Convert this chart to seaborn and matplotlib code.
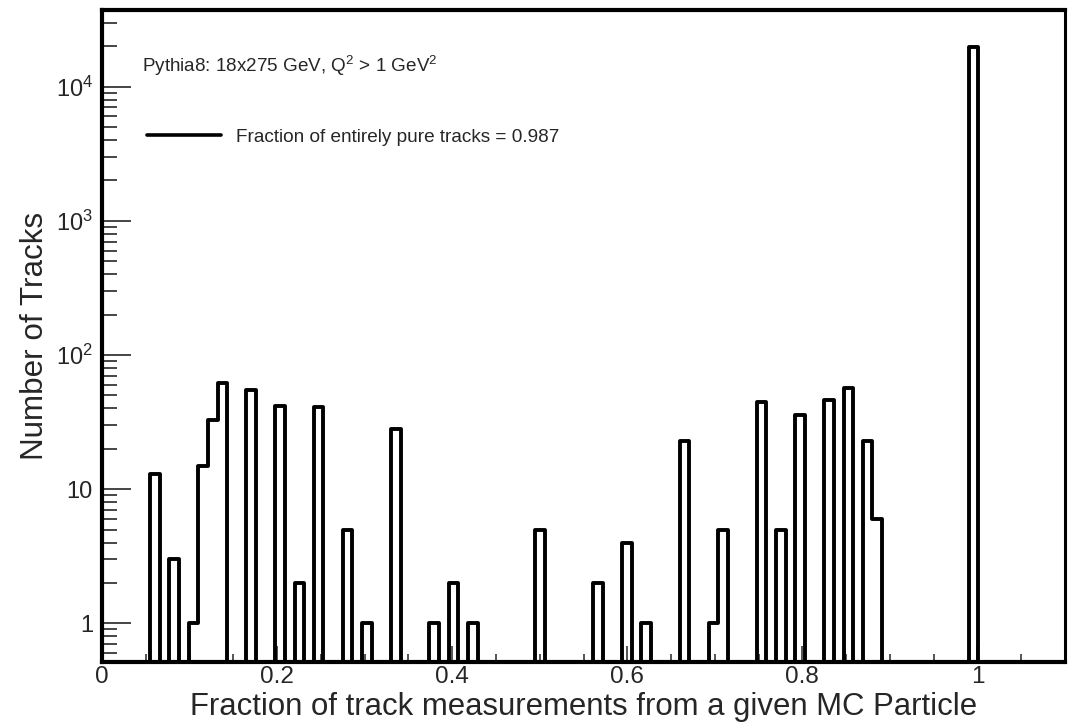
import numpy as np
import pandas as pd
import matplotlib
matplotlib.use("Agg")
import matplotlib.pyplot as plt
import seaborn as sns
from matplotlib.ticker import FixedLocator, FixedFormatter, MultipleLocator, NullFormatter
from matplotlib.lines import Line2D

# ---- data ----
bin_low = [0.055, 0.077, 0.099, 0.110, 0.121, 0.132, 0.165, 0.198, 0.220, 0.242,
           0.275, 0.297, 0.330, 0.374, 0.396, 0.418, 0.495, 0.561, 0.594, 0.616,
           0.660, 0.693, 0.704, 0.748, 0.770, 0.792, 0.825, 0.847, 0.869, 0.880,
           0.990]
counts = [13, 3, 1, 15, 33, 62, 55, 42, 2, 41,
          5, 1, 28, 1, 2, 1, 5, 2, 4, 1,
          23, 1, 5, 45, 5, 36, 46, 57, 23, 6,
          19900]
bin_width = 0.011
x_range = (0.0, 1.1)
x_ticks = [0, 0.2, 0.4, 0.6, 0.8, 1.0]
x_tick_labels = ["0", "0.2", "0.4", "0.6", "0.8", "1"]
y_ticks = [1, 10, 100, 1000, 10000]
y_tick_labels = ["1", "10", r"$\mathdefault{10^{2}}$", r"$\mathdefault{10^{3}}$", r"$\mathdefault{10^{4}}$"]
x_title = "Fraction of track measurements from a given MC Particle"
y_title = "Number of Tracks"
note_text = r"Pythia8: 18x275 GeV, Q$^{2}$ > 1 GeV$^{2}$"
legend_label = "Fraction of entirely pure tracks = 0.987"

df = pd.DataFrame({"fraction": [b + bin_width / 2 for b in bin_low], "count": counts})
n_bins = int(round((x_range[1] - x_range[0]) / bin_width))
edges = [float(e) for e in np.linspace(x_range[0], x_range[1], n_bins + 1)]

sns.set_style("white")
plt.rcParams["font.family"] = ["Liberation Sans", "DejaVu Sans"]
plt.rcParams["mathtext.fontset"] = "custom"
plt.rcParams["mathtext.rm"] = "Liberation Sans"
plt.rcParams["mathtext.it"] = "Liberation Sans"

fig = plt.figure(figsize=(10.76, 7.24), dpi=100)
ax = fig.add_axes([102 / 1076, 1 - 662 / 724, (1065 - 102) / 1076, (662 - 10) / 724])

sns.histplot(data=df, x="fraction", weights="count", bins=edges, element="step",
             fill=False, color="black", linewidth=2.8, ax=ax)

ax.set_yscale("log")
ax.set_xlim(*x_range)
ax.set_ylim(0.515, 37300)

for name, s in ax.spines.items():
    s.set_linewidth(2.2 if name == "right" else 3.0)
    s.set_color("black")

ax.xaxis.set_major_locator(FixedLocator(x_ticks))
ax.xaxis.set_major_formatter(FixedFormatter(x_tick_labels))
ax.xaxis.set_minor_locator(MultipleLocator(0.05))
ax.yaxis.set_major_locator(FixedLocator(y_ticks))
ax.yaxis.set_major_formatter(FixedFormatter(y_tick_labels))
ax.yaxis.set_minor_locator(matplotlib.ticker.LogLocator(base=10, subs=np.arange(2, 10)))
ax.yaxis.set_minor_formatter(NullFormatter())

ax.tick_params(axis="x", which="major", direction="in", length=11.5, width=1.1, labelsize=17.5, pad=3,
               bottom=True, top=False)
ax.tick_params(axis="x", which="minor", direction="in", length=5.5, width=1.1, bottom=True, top=False)
ax.tick_params(axis="y", which="major", direction="in", length=21, width=1.2, labelsize=17, pad=6.5,
               left=True, right=False)
ax.tick_params(axis="y", which="minor", direction="in", length=11, width=1.2, left=True, right=False)

ax.set_xlabel(x_title, fontsize=22.4)
ax.set_ylabel(y_title, fontsize=22.6)
ax.xaxis.set_label_coords(0.5, -0.046)
ax.yaxis.set_label_coords(-0.054, 0.5)

ax.text((142 - 102) / 963, (662 - 72) / 652, note_text, transform=ax.transAxes,
        fontsize=13.6, va="baseline", ha="left")

handle = Line2D([], [], color="black", linewidth=2.6)
ax.legend([handle], [legend_label], loc="center left",
          bbox_to_anchor=((147 - 102) / 963, (662 - 137) / 652),
          frameon=False, fontsize=13.7, handlelength=3.9, handletextpad=0.78,
          borderpad=0, borderaxespad=0)

fig.savefig("out.png", dpi=100)
